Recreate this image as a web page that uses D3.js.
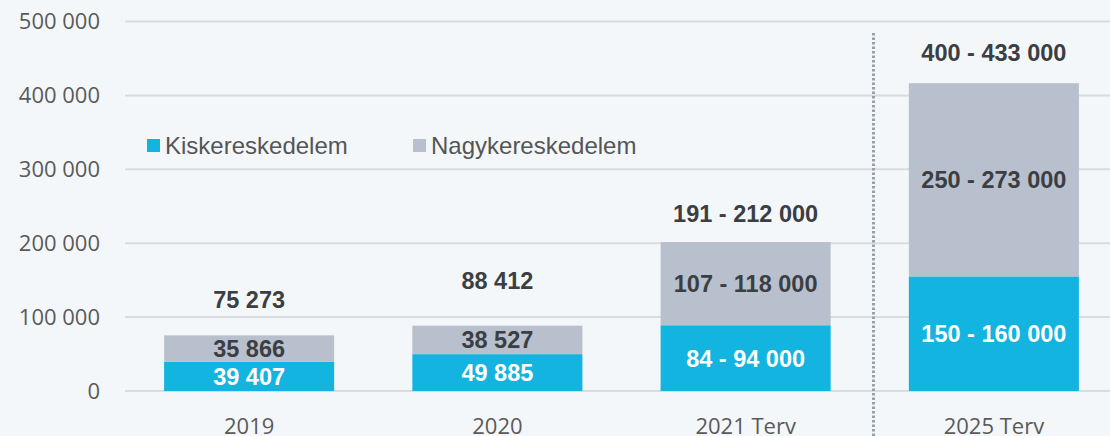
<!DOCTYPE html>
<html>
<head>
<meta charset="utf-8">
<script src="https://cdn.jsdelivr.net/npm/d3@7"></script>
<style>
  html, body { margin: 0; padding: 0; background: #f4f7f9; }
  svg { display: block; }
</style>
</head>
<body>
<svg id="chart" width="1110" height="436"></svg>
<script>
// Data
const categories = ["2019", "2020", "2021 Terv", "2025 Terv"];
const kisker = [39407, 49885, 89000, 155000];
const nagyker = [35866, 38527, 112500, 261500];
const kiskerLabels = ["39 407", "49 885", "84 - 94 000", "150 - 160 000"];
const nagykerLabels = ["35 866", "38 527", "107 - 118 000", "250 - 273 000"];
const totalLabels = ["75 273", "88 412", "191 - 212 000", "400 - 433 000"];
const yTicks = [0, 100000, 200000, 300000, 400000, 500000];
const seriesNames = ["Kiskereskedelem", "Nagykereskedelem"];

const colors = { kisker: "#13b4e0", nagyker: "#b7c0cc" };

const svg = d3.select("#chart");
const width = +svg.attr("width");
const height = +svg.attr("height");

svg.append("rect").attr("width", width).attr("height", height).attr("fill", "#f4f7f9");

const x = d3.scaleBand()
  .domain(categories)
  .range([125, 1118])
  .paddingInner(0.315)
  .paddingOuter(0.1575);

const y = d3.scaleLinear()
  .domain([0, 500000])
  .range([391, 21.5]);

const fmt = v => d3.format(",")(v).replace(/,/g, " ");

// Gridlines
svg.append("g")
  .selectAll("line")
  .data(yTicks)
  .join("line")
  .attr("x1", 125)
  .attr("x2", width)
  .attr("y1", d => y(d))
  .attr("y2", d => y(d))
  .attr("stroke", "#d9dcdf")
  .attr("stroke-width", 2);

// Y axis labels
const yAxis = svg.append("g")
  .attr("transform", "translate(100,0)")
  .call(d3.axisLeft(y).tickValues(yTicks).tickFormat(fmt).tickSize(0).tickPadding(0));
yAxis.select(".domain").remove();
yAxis.selectAll("text")
  .attr("fill", "#5a5a5a")
  .style("font-family", "'Open Sans', sans-serif")
  .style("font-size", "22px");

// X axis labels (bottom of them is cut by the frame, as in the original)
const xAxis = svg.append("g")
  .attr("transform", "translate(0,391)")
  .call(d3.axisBottom(x).tickSize(0).tickPadding(27));
xAxis.select(".domain").remove();
xAxis.selectAll("text")
  .attr("fill", "#5a5a5a")
  .style("font-family", "'Open Sans', sans-serif")
  .style("font-size", "22px");

// Dotted separator before plan year
svg.append("line")
  .attr("x1", 873.5)
  .attr("x2", 873.5)
  .attr("y1", 33)
  .attr("y2", 436)
  .attr("stroke", "#9aa0a8")
  .attr("stroke-width", 3)
  .attr("stroke-dasharray", "2.5,2");

// Bars
const bars = svg.append("g");
categories.forEach((c, i) => {
  bars.append("rect")
    .attr("x", x(c))
    .attr("width", x.bandwidth())
    .attr("y", y(kisker[i]))
    .attr("height", y(0) - y(kisker[i]))
    .attr("fill", colors.kisker);
  bars.append("rect")
    .attr("x", x(c))
    .attr("width", x.bandwidth())
    .attr("y", y(kisker[i] + nagyker[i]))
    .attr("height", y(kisker[i]) - y(kisker[i] + nagyker[i]))
    .attr("fill", colors.nagyker);
});

// Labels
const labelFont = "'Liberation Sans', Arial, sans-serif";
const labels = svg.append("g")
  .attr("text-anchor", "middle")
  .style("font-family", labelFont)
  .style("font-weight", "bold")
  .style("font-size", "23.5px");

// total labels sit above the bar, spacing differs a bit per bar in the original
const totalOffsets = [36, 45, 29, 31];

categories.forEach((c, i) => {
  const cx = x(c) + x.bandwidth() / 2;
  labels.append("text")
    .attr("x", cx)
    .attr("y", (y(0) + y(kisker[i])) / 2)
    .attr("dy", "0.36em")
    .attr("fill", "#ffffff")
    .text(kiskerLabels[i]);
  labels.append("text")
    .attr("x", cx)
    .attr("y", (y(kisker[i]) + y(kisker[i] + nagyker[i])) / 2)
    .attr("dy", "0.36em")
    .attr("fill", "#3b3e43")
    .text(nagykerLabels[i]);
  labels.append("text")
    .attr("x", cx)
    .attr("y", y(kisker[i] + nagyker[i]) - totalOffsets[i])
    .attr("dy", "0.36em")
    .attr("fill", "#3b3e43")
    .text(totalLabels[i]);
});

// Legend
const legend = svg.append("g").attr("transform", "translate(147,139)");
const legendItems = legend.selectAll("g")
  .data(seriesNames)
  .join("g")
  .attr("transform", (d, i) => `translate(${i * 266},0)`);

legendItems.append("rect")
  .attr("width", 13)
  .attr("height", 13)
  .attr("fill", (d, i) => i === 0 ? colors.kisker : colors.nagyker);

legendItems.append("text")
  .attr("x", 18)
  .attr("y", 6.5)
  .attr("dy", "0.36em")
  .attr("fill", "#555555")
  .style("font-family", labelFont)
  .style("font-size", "24px")
  .text(d => d);
</script>
</body>
</html>
